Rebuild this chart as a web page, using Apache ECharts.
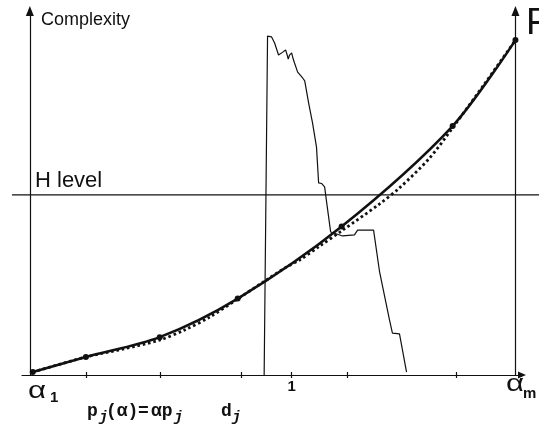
<!DOCTYPE html>
<html>
<head>
<meta charset="utf-8">
<script src="https://cdn.jsdelivr.net/npm/echarts@6/dist/echarts.min.js"></script>
<style>
    html, body { margin: 0; padding: 0; background: #fff; }
    #myChart { width: 539px; height: 428px; }
</style>
</head>
<body>
<div id="myChart"></div>
<script>
    // alpha on x (alpha_1 = 0, "1" = 1), complexity on y (0..100)
    const pointAlpha = [0.011, 0.214, 0.496, 0.794, 1.191, 1.615, 1.855]
    const pointComplexity = [0.8, 4.95, 10.4, 21.0, 40.8, 68.4, 92.0]

    const fitAlpha = [0.011, 0.214, 0.355, 0.496, 0.592, 0.687, 0.794, 0.897, 0.981, 1.031, 1.107, 1.191, 1.336, 1.412, 1.527, 1.615, 1.737, 1.855]
    const fitComplexity = [0.8, 4.95, 7.1, 9.6, 12.4, 15.9, 20.9, 25.8, 29.7, 31.6, 35.4, 39.6, 47.0, 51.4, 59.6, 67.9, 80.0, 92.0]

    const distAlpha = [0.895, 0.908, 0.923, 0.935, 0.950, 0.966, 0.977, 0.983, 0.987, 0.992, 1.000, 1.006, 1.011, 1.023, 1.042, 1.050, 1.065, 1.080, 1.095, 1.103, 1.115, 1.126, 1.134, 1.149, 1.195, 1.240, 1.252, 1.313, 1.336, 1.374, 1.385, 1.412, 1.439]
    const distValue = [0, 93.1, 92.9, 91.2, 87.9, 88.7, 89.3, 87.9, 86.8, 87.9, 88.5, 86.8, 85.7, 83.2, 81.6, 80.8, 74.7, 69.2, 62.6, 52.8, 52.6, 51.7, 47.3, 39.3, 38.2, 38.5, 39.8, 39.8, 28.3, 15.1, 11.5, 11.3, 0.8]

    const tickAlpha = [0.214, 0.5, 0.809, 1, 1.214, 1.63]
    const labelAlpha = [1]
    const hLevel = 49.5
    const alphaM = 1.855

    const zip = (xs, ys) => xs.map((x, i) => [x, ys[i]])
    const ink = '#111'
    const sans = '"Liberation Sans", Arial, sans-serif'
    const mono = '"Liberation Mono", "Courier New", monospace'

    function txt(x, y, text, font, sx) {
        return {
            type: 'text', x: x, y: y, scaleX: sx || 1, silent: true,
            style: { text: text, font: font, fill: ink, textAlign: 'left', textVerticalAlign: 'middle' }
        }
    }

    const option = {
        animation: false,
        backgroundColor: '#fff',
        grid: [
            { left: 22, right: 17, top: 11, bottom: 53 },
            { left: 12, right: 0, top: 11, bottom: 53 }
        ],
        xAxis: [
            {
                type: 'value', gridIndex: 0, min: -0.03, max: 1.88, position: 'bottom',
                axisLine: { show: true, onZero: false, symbol: ['none', 'triangle'], symbolSize: [7, 8], lineStyle: { color: ink, width: 1.2 } },
                axisTick: { show: true, length: 3, customValues: tickAlpha, lineStyle: { color: ink, width: 1.2 } },
                axisLabel: { show: true, customValues: labelAlpha, margin: 4, color: ink, fontFamily: sans, fontWeight: 'bold', fontSize: 15 },
                splitLine: { show: false }
            },
            {
                type: 'value', gridIndex: 0, min: -0.03, max: 1.88, position: 'bottom',
                axisLine: { show: false, onZero: false },
                axisTick: { show: true, inside: true, length: 3, customValues: tickAlpha, lineStyle: { color: ink, width: 1.2 } },
                axisLabel: { show: false },
                splitLine: { show: false }
            },
            { type: 'value', gridIndex: 1, min: 0, max: 1, show: false }
        ],
        yAxis: [
            {
                type: 'value', gridIndex: 0, min: 0, max: 100,
                axisLine: { show: true, onZero: true, onZeroAxisIndex: 0, symbol: ['none', 'triangle'], symbolSize: [8, 10], lineStyle: { color: ink, width: 1.2 } },
                axisTick: { show: false },
                axisLabel: { show: false },
                splitLine: { show: false }
            },
            { type: 'value', gridIndex: 1, min: 0, max: 100, show: false }
        ],
        series: [
            {
                name: 'H level', type: 'line', xAxisIndex: 2, yAxisIndex: 1,
                data: [[0, hLevel], [1, hLevel]],
                showSymbol: false, silent: true,
                lineStyle: { color: ink, width: 1.2 }
            },
            {
                name: 'fit', type: 'line', xAxisIndex: 0, yAxisIndex: 0,
                data: zip(fitAlpha, fitComplexity),
                smooth: 0.3, showSymbol: false, silent: true, clip: false,
                lineStyle: { color: ink, width: 2.8, type: [2.6, 2.8] }
            },
            {
                name: 'complexity', type: 'line', xAxisIndex: 0, yAxisIndex: 0,
                data: zip(pointAlpha, pointComplexity),
                smooth: 0.3, symbol: 'circle', symbolSize: 6, silent: true, clip: false,
                itemStyle: { color: ink },
                lineStyle: { color: ink, width: 2.6 },
                markLine: {
                    silent: true, symbol: ['none', 'triangle'], symbolSize: [8, 10],
                    label: { show: false },
                    lineStyle: { color: ink, width: 1.2, type: 'solid' },
                    data: [[{ coord: [alphaM, 0] }, { coord: [alphaM, 100] }]]
                }
            },
            {
                name: 'distribution', type: 'line', xAxisIndex: 0, yAxisIndex: 0,
                data: zip(distAlpha, distValue),
                showSymbol: false, silent: true, clip: false,
                lineStyle: { color: ink, width: 1.2 }
            }
        ],
        graphic: [
            txt(41, 20, 'Complexity', '18px ' + sans),
            txt(35, 180.5, 'H level', '22px ' + sans),
            txt(526, 24, 'F', '37px ' + sans),
            txt(28, 391.7, 'α', '24px ' + sans, 1.3),
            txt(50, 397.5, '1', 'bold 15px ' + sans),
            txt(506, 384.7, 'α', '24px ' + sans, 1.3),
            txt(523, 394, 'm', 'bold 15px ' + sans),
            txt(87, 411, 'p', 'bold 18px ' + mono),
            txt(99, 417, 'j', 'italic bold 15px ' + mono),
            txt(106, 411, '(α)', 'bold 18px ' + mono),
            txt(138, 411, '=', 'bold 18px ' + mono),
            txt(151, 411, 'αp', 'bold 18px ' + mono),
            txt(174, 417, 'j', 'italic bold 15px ' + mono),
            txt(221, 411, 'd', 'bold 18px ' + mono),
            txt(232, 417, 'j', 'italic bold 15px ' + mono)
        ]
    }

    const myChart = echarts.init(document.getElementById('myChart'), null, { renderer: 'canvas' })
    myChart.setOption(option)
</script>
</body>
</html>
